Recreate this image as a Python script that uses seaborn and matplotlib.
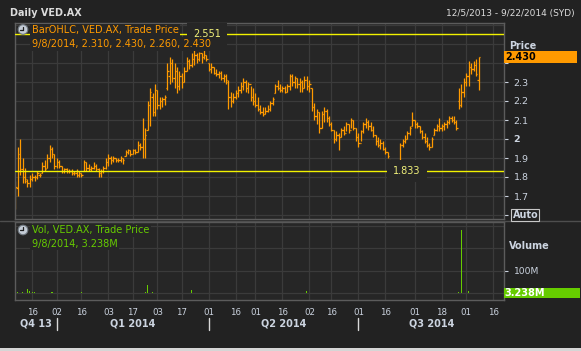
import numpy as np
import pandas as pd
import matplotlib
matplotlib.use("Agg")
import matplotlib.pyplot as plt
import seaborn as sns
from matplotlib import transforms
from matplotlib.lines import Line2D
from matplotlib.patches import Rectangle, Circle

# ---------------- data ----------------
HOLIDAYS = ["2013-12-25", "2013-12-26", "2014-01-01", "2014-01-27",
            "2014-04-18", "2014-04-21", "2014-04-25", "2014-06-09"]
AXIS_START = "2013-12-05"
AXIS_END = "2014-09-22"

highs = [1.78,1.96,2.00,1.90,1.85,1.79,1.81,1.82,1.81,1.83,
         1.82,1.88,1.89,1.92,1.97,1.96,1.92,1.90,1.89,1.86,
         1.85,1.85,1.84,1.84,1.83,1.84,1.83,1.82,1.89,1.88,
         1.87,1.86,1.88,1.87,1.85,1.84,1.86,1.90,1.92,1.91,
         1.91,1.90,1.90,1.91,1.90,1.94,1.95,1.94,1.95,1.95,
         1.99,1.98,2.11,2.06,2.20,2.27,2.24,2.29,2.26,2.22,
         2.22,2.23,2.40,2.43,2.42,2.40,2.38,2.36,2.35,2.38,
         2.43,2.42,2.45,2.47,2.45,2.46,2.45,2.47,2.44,2.40,
         2.40,2.38,2.37,2.36,2.36,2.34,2.34,2.31,2.25,2.24,
         2.26,2.28,2.30,2.32,2.31,2.30,2.28,2.27,2.24,2.22,
         2.18,2.17,2.17,2.18,2.20,2.22,2.29,2.31,2.29,2.28,
         2.28,2.29,2.34,2.34,2.33,2.32,2.32,2.31,2.33,2.33,
         2.31,2.27,2.19,2.16,2.14,2.15,2.17,2.16,2.12,2.09,
         2.05,2.04,2.03,2.06,2.07,2.09,2.08,2.11,2.10,2.06,
         2.03,2.05,2.09,2.11,2.10,2.09,2.07,2.02,2.01,2.00,
         1.99,1.96,1.93,1.89,1.88,1.88,1.87,1.98,2.00,2.02,
         2.04,2.07,2.14,2.10,2.09,2.07,2.05,2.03,2.01,1.98,
         2.01,2.06,2.08,2.11,2.08,2.09,2.10,2.12,2.12,2.12,
         2.10,2.27,2.29,2.32,2.35,2.41,2.40,2.41,2.42,2.43]
lows = [1.63,1.70,1.81,1.77,1.77,1.75,1.75,1.78,1.78,1.79,
        1.80,1.82,1.83,1.85,1.88,1.90,1.84,1.85,1.85,1.82,
        1.82,1.82,1.82,1.81,1.81,1.80,1.80,1.80,1.83,1.83,
        1.83,1.83,1.84,1.83,1.80,1.80,1.82,1.84,1.86,1.87,
        1.88,1.88,1.88,1.88,1.87,1.91,1.92,1.91,1.92,1.92,
        1.93,1.94,1.90,1.90,2.05,2.07,2.12,2.12,2.16,2.16,
        2.17,2.18,2.26,2.29,2.30,2.27,2.24,2.26,2.27,2.30,
        2.36,2.37,2.38,2.39,2.40,2.41,2.40,2.42,2.41,2.36,
        2.35,2.34,2.33,2.32,2.31,2.30,2.29,2.16,2.17,2.19,
        2.21,2.22,2.24,2.26,2.25,2.24,2.20,2.18,2.17,2.15,
        2.13,2.12,2.13,2.14,2.15,2.18,2.24,2.26,2.25,2.25,
        2.24,2.25,2.26,2.28,2.27,2.27,2.25,2.25,2.27,2.26,
        2.25,2.15,2.10,2.08,2.03,2.06,2.09,2.09,2.07,2.04,
        1.98,1.99,1.94,2.01,2.02,2.04,2.03,2.06,2.05,1.99,
        1.96,1.99,2.03,2.06,2.05,2.04,2.01,1.97,1.96,1.95,
        1.94,1.92,1.90,1.87,1.86,1.86,1.833,1.86,1.96,1.98,
        2.00,2.02,2.07,2.06,2.06,2.03,2.00,1.98,1.96,1.94,
        1.96,2.02,2.04,2.04,2.04,2.05,2.06,2.08,2.09,2.08,
        2.05,2.16,2.17,2.22,2.28,2.28,2.34,2.36,2.33,2.26]
opens = [1.66,1.74,1.92,1.84,1.80,1.78,1.77,1.79,1.80,1.80,
         1.81,1.82,1.86,1.85,1.90,1.95,1.92,1.86,1.88,1.86,
         1.83,1.84,1.83,1.83,1.82,1.82,1.81,1.82,1.83,1.88,
         1.85,1.84,1.85,1.86,1.84,1.82,1.83,1.85,1.88,1.90,
         1.89,1.90,1.89,1.89,1.90,1.91,1.93,1.94,1.92,1.94,
         1.93,1.97,1.96,2.00,2.05,2.18,2.22,2.14,2.26,2.18,
         2.20,2.21,2.27,2.33,2.40,2.32,2.36,2.28,2.33,2.30,
         2.36,2.41,2.39,2.42,2.44,2.42,2.45,2.43,2.44,2.40,
         2.37,2.38,2.35,2.34,2.35,2.32,2.33,2.30,2.22,2.20,
         2.22,2.24,2.26,2.28,2.30,2.27,2.29,2.22,2.20,2.18,
         2.16,2.14,2.13,2.15,2.16,2.19,2.24,2.28,2.27,2.26,
         2.27,2.25,2.28,2.33,2.30,2.32,2.29,2.30,2.27,2.31,
         2.28,2.27,2.17,2.12,2.14,2.06,2.13,2.15,2.11,2.08,
         2.05,2.00,2.02,2.01,2.05,2.03,2.08,2.05,2.10,2.06,
         2.01,1.98,2.04,2.08,2.09,2.07,2.05,2.02,1.99,1.97,
         1.98,1.95,1.93,1.89,1.88,1.87,1.86,1.86,1.97,1.99,
         2.00,2.03,2.07,2.10,2.08,2.07,2.04,2.01,1.99,1.97,
         1.96,2.02,2.05,2.07,2.06,2.07,2.08,2.09,2.11,2.10,
         2.09,2.20,2.18,2.25,2.30,2.33,2.38,2.37,2.39,2.31]
closes = [1.75,1.90,1.84,1.80,1.79,1.77,1.79,1.80,1.80,1.82,
          1.81,1.86,1.84,1.90,1.95,1.92,1.86,1.88,1.86,1.83,
          1.84,1.83,1.83,1.82,1.82,1.81,1.82,1.81,1.88,1.85,
          1.84,1.85,1.86,1.84,1.82,1.83,1.85,1.88,1.90,1.89,
          1.90,1.89,1.89,1.90,1.89,1.93,1.94,1.92,1.94,1.93,
          1.97,1.96,2.00,2.02,2.18,2.25,2.14,2.26,2.18,2.20,
          2.21,2.22,2.36,2.40,2.32,2.36,2.28,2.33,2.30,2.36,
          2.41,2.39,2.42,2.44,2.42,2.45,2.43,2.44,2.42,2.37,
          2.38,2.35,2.34,2.35,2.32,2.33,2.31,2.22,2.20,2.22,
          2.24,2.26,2.28,2.30,2.27,2.29,2.22,2.20,2.18,2.16,
          2.14,2.13,2.15,2.16,2.19,2.21,2.28,2.27,2.26,2.27,
          2.25,2.28,2.33,2.30,2.32,2.29,2.30,2.27,2.31,2.28,
          2.29,2.17,2.12,2.14,2.06,2.13,2.15,2.11,2.08,2.05,
          2.00,2.02,2.01,2.05,2.03,2.08,2.05,2.10,2.06,2.01,
          1.98,2.04,2.08,2.09,2.07,2.05,2.02,1.99,1.97,1.98,
          1.95,1.93,1.91,1.88,1.87,1.86,1.85,1.97,1.99,2.00,
          2.03,2.06,2.10,2.08,2.07,2.04,2.01,1.99,1.97,1.96,
          2.00,2.05,2.07,2.06,2.07,2.08,2.09,2.11,2.10,2.09,
          2.06,2.18,2.25,2.30,2.33,2.38,2.37,2.39,2.34,2.43]
volume_m = [63,4,3,4,3,18,10,7,4,1.2,
            1.0,1.3,0.9,1.1,1.4,4,1.2,0.8,1.0,1.1,
            0.9,1.2,1.0,0.8,1.1,1.3,1.0,7,1.5,1.1,
            0.9,1.0,1.2,1.4,1.1,0.9,1.0,1.2,1.3,1.1,
            1.0,1.2,0.9,1.1,1.3,1.0,1.2,1.4,1.1,1.3,
            1.6,1.8,3.5,4,37,3,7,1.8,1.5,1.2,
            1.4,1.3,1.8,2,3,3,3,3,1.6,1.4,
            1.5,1.9,15,3,3,1.6,1.4,3,1.2,1.3,
            3,1.2,1.1,1.4,3,3,1.2,3,1.3,1.1,
            3,1.2,1.0,1.1,0.9,1.2,1.0,1.1,1.3,1.0,
            1.2,0.9,1.1,1.0,1.2,1.4,3,3,3,1.2,
            1.0,1.1,1.3,1.2,1.0,1.1,0.9,1.0,1.4,10,
            1.6,1.9,1.4,1.2,3,1.3,3,1.1,1.0,1.2,
            1.3,3,3,3,3,1.2,1.0,1.1,0.9,1.2,
            1.0,1.1,1.3,1.2,3,1.1,1.0,1.2,1.1,1.3,
            1.0,1.2,1.4,1.3,1.5,3,3,1.6,1.2,1.1,
            3,1.2,1.4,3,1.1,1.0,1.2,1.1,1.3,1.0,
            1.1,1.2,1.0,1.3,1.1,1.2,1.0,1.1,1.3,1.4,
            1.8,6,280,3.5,3.5,10,3,3,3,3.238]

TICK_DATES = ["2013-12-16", "2014-01-02", "2014-01-16", "2014-02-03", "2014-02-17",
              "2014-03-03", "2014-03-17", "2014-04-01", "2014-04-16", "2014-05-01",
              "2014-05-16", "2014-06-02", "2014-06-16", "2014-07-01", "2014-07-16",
              "2014-08-01", "2014-08-18", "2014-09-01", "2014-09-16"]
QUARTER_STARTS = ["2014-01-02", "2014-04-01", "2014-07-01"]
QUARTER_LABELS = ["Q4 13", "Q1 2014", "Q2 2014", "Q3 2014"]
PRICE_TICKS = [1.6, 1.7, 1.8, 1.9, 2.0, 2.1, 2.2, 2.3, 2.4, 2.5, 2.6]
PRICE_TICK_LABELS = ["", "1.7", "1.8", "1.9", "2", "2.1", "2.2", "2.3", "", "", ""]
VOL_TICKS = [0, 100, 200, 300]
VOL_TICK_LABELS = ["", "100M", "", ""]
HI_LINE, LO_LINE = 2.551, 1.833
LAST_PRICE_TEXT = "2.430"
LAST_VOL_TEXT = "3.238M"
TITLE = "Daily VED.AX"
RANGE_TEXT = "12/5/2013 - 9/22/2014 (SYD)"
LEG1 = ["BarOHLC, VED.AX, Trade Price", "9/8/2014, 2.310, 2.430, 2.260, 2.430"]
LEG2 = ["Vol, VED.AX, Trade Price", "9/8/2014, 3.238M"]

# ---------------- style ----------------
OUTER = "#222222"
PANEL = "#262626"
GRID = "#3b3b3b"
SPINE = "#5c5c5c"
TXT = "#ccd4e0"
ORANGE = "#ff9a00"
GREEN = "#66cc00"
YELLOW = "#f2f200"

sns.set_theme(style="dark", rc={
    "figure.facecolor": OUTER, "axes.facecolor": PANEL,
    "axes.edgecolor": SPINE, "grid.color": GRID,
    "xtick.color": TXT, "ytick.color": TXT,
    "text.color": TXT, "axes.labelcolor": TXT,
})
plt.rcParams["font.family"] = ["DejaVu Sans"]

W, H = 581, 351
fig = plt.figure(figsize=(W / 100, H / 100), dpi=100)


def fx(px):
    return px / W


def fy(py):
    return 1 - py / H


days = pd.bdate_range(AXIS_START, AXIS_END, freq="C", holidays=HOLIDAYS)
n = len(closes)
df = pd.DataFrame({"i": np.arange(n), "date": days[:n], "open": opens, "high": highs,
                   "low": lows, "close": closes, "vol": volume_m})
tick_pos = days.get_indexer(pd.to_datetime(TICK_DATES))
tick_lab = [d[-2:] for d in TICK_DATES]
q_pos = days.get_indexer(pd.to_datetime(QUARTER_STARTS))
XL = (-0.3, len(days) - 1 + 0.4)

L, R = 14.5, 504
axp = fig.add_axes([fx(L), fy(219), fx(R - L), (219 - 22.5) / H])
axv = fig.add_axes([fx(L), fy(300), fx(R - L), (300 - 221.5) / H])

# ---- price panel ----
axp.vlines(df["i"], df["low"], df["high"], color=ORANGE, lw=0.9)
axp.hlines(df["open"], df["i"] - 0.55, df["i"], color=ORANGE, lw=0.9)
axp.hlines(df["close"], df["i"], df["i"] + 0.55, color=ORANGE, lw=0.9)
axp.axhline(HI_LINE, color=YELLOW, lw=1, zorder=3)
axp.axhline(LO_LINE, color=YELLOW, lw=1, zorder=3)
axp.set_xlim(*XL)
axp.set_ylim(2.0 - (219 - 139) / 190, 2.0 + (139 - 22.5) / 190)
axp.set_xticks(tick_pos)
axp.set_xticklabels([])
axp.tick_params(axis="x", length=0)
axp.yaxis.tick_right()
axp.set_yticks(PRICE_TICKS)
axp.set_yticklabels(PRICE_TICK_LABELS)
axp.tick_params(axis="y", length=3, width=0.8, pad=4, labelsize=6.8, colors=TXT)
for t, v in zip(axp.yaxis.get_major_ticks(), PRICE_TICKS):
    if v > 2.45:
        t.tick2line.set_visible(False)
for lab in axp.get_yticklabels():
    if lab.get_text() == "2":
        lab.set_fontweight("bold")
axp.grid(True, color=GRID, lw=0.9)
for s in axp.spines.values():
    s.set_color(SPINE)
    s.set_linewidth(1)

bt = transforms.blended_transform_factory(axp.transAxes, axp.transData)
axp.text((207 - L) / (R - L), HI_LINE, "2.551", transform=bt, color="#f0f07a",
         fontsize=7, ha="center", va="center", zorder=5,
         bbox=dict(facecolor=PANEL, edgecolor="none", pad=4.5))
axp.text((407 - L) / (R - L), LO_LINE, "1.833", transform=bt, color="#f0f07a",
         fontsize=7, ha="center", va="center", zorder=5,
         bbox=dict(facecolor=PANEL, edgecolor="none", pad=4.5))

# ---- volume panel ----
sns.barplot(data=df, x="i", y="vol", native_scale=True, color=GREEN, saturation=1,
            width=0.45, linewidth=0, errorbar=None, ax=axv)
axv.set_xlabel("")
axv.set_ylabel("")
axv.set_xlim(*XL)
axv.set_ylim(-(300 - 293.3) / 22.5 * 100, (293.3 - 221.5) / 22.5 * 100)
axv.set_xticks(tick_pos)
axv.set_xticklabels(tick_lab)
axv.tick_params(axis="x", length=3, width=0.8, pad=3, labelsize=6.2, colors=TXT)
axv.yaxis.tick_right()
axv.set_yticks(VOL_TICKS)
axv.set_yticklabels(VOL_TICK_LABELS)
axv.tick_params(axis="y", length=3, width=0.8, pad=4, labelsize=6.6, colors=TXT)
for t, v in zip(axv.yaxis.get_major_ticks(), VOL_TICKS):
    if v != 100:
        t.tick2line.set_visible(False)
axv.grid(True, color=GRID, lw=0.9)
for s in axv.spines.values():
    s.set_color(SPINE)
    s.set_linewidth(1)

# quarter labels and separators
bq = transforms.blended_transform_factory(axv.transData, fig.transFigure)
bounds = [XL[0]] + list(q_pos) + [XL[1]]
for k, lab in enumerate(QUARTER_LABELS):
    c = (bounds[k] + bounds[k + 1]) / 2
    axv.text(c, fy(324), lab, transform=bq, ha="center", va="center",
             fontsize=7, fontweight="bold", color=TXT, clip_on=False)
for q in q_pos:
    axv.add_line(Line2D([q, q], [fy(318), fy(329.5)], transform=bq, color="#d8d8d8",
                        lw=1, clip_on=False))

# ---- figure texts ----
fig.text(fx(10), fy(13.5), TITLE, fontsize=6.9, fontweight="bold", color="#dcdcdc",
         va="center")
fig.text(fx(575), fy(13.5), RANGE_TEXT, fontsize=6.5, color="#dcdcdc", va="center",
         ha="right")

legbox = dict(facecolor=PANEL, edgecolor="none", pad=1.2)
fig.text(fx(31.5), fy(30.5), LEG1[0], fontsize=7, color=ORANGE, va="center", bbox=legbox,
         zorder=6)
fig.text(fx(32), fy(44), LEG1[1], fontsize=7, color=ORANGE, va="center", bbox=legbox,
         zorder=6)
fig.text(fx(31.5), fy(230.5), LEG2[0], fontsize=7, color=GREEN, va="center", bbox=legbox,
         zorder=6)
fig.text(fx(32), fy(243.5), LEG2[1], fontsize=7, color=GREEN, va="center", bbox=legbox,
         zorder=6)

# clock icons
for cy in (29.5, 230):
    c = Circle((23 / 100, (H - cy) / 100), 0.048, transform=fig.dpi_scale_trans,
               facecolor="#c4ccd6", edgecolor="#707880", lw=0.8, zorder=7)
    fig.add_artist(c)
    fig.add_artist(Line2D([23 / 100, 23 / 100], [(H - cy) / 100, (H - cy + 3) / 100],
                          transform=fig.dpi_scale_trans, color="#202020", lw=0.9, zorder=8))
    fig.add_artist(Line2D([23 / 100, 20 / 100], [(H - cy) / 100, (H - cy) / 100],
                          transform=fig.dpi_scale_trans, color="#202020", lw=0.9, zorder=8))

# right side labels
fig.text(fx(509), fy(45.7), "Price", fontsize=6.9, fontweight="bold", color=TXT,
         va="center")
fig.add_artist(Rectangle((fx(504), fy(62.8)), fx(577 - 504), (62.8 - 50.5) / H,
                         transform=fig.transFigure, facecolor=ORANGE, edgecolor="none",
                         zorder=6))
fig.text(fx(505), fy(56.8), LAST_PRICE_TEXT, fontsize=6.9, fontweight="bold",
         color="#000000", va="center", zorder=7)
fig.text(fx(512.5), fy(215), "Auto", fontsize=6.9, fontweight="bold", color=TXT,
         va="center", zorder=7,
         bbox=dict(facecolor=OUTER, edgecolor="#c8c8c8", pad=1.0, lw=0.8))
fig.text(fx(509.3), fy(246), "Volume", fontsize=7, fontweight="bold", color=TXT,
         va="center")
fig.add_artist(Rectangle((fx(503.7), fy(298.3)), fx(580 - 503.7), (298.3 - 288.3) / H,
                         transform=fig.transFigure, facecolor=GREEN, edgecolor="none",
                         zorder=6))
fig.text(fx(504), fy(293.3), LAST_VOL_TEXT, fontsize=7, fontweight="bold",
         color="#ffffff", va="center", zorder=7)

# separator line between panels and bottom strip
fig.add_artist(Line2D([0, 1], [fy(221), fy(221)], transform=fig.transFigure,
                      color="#4e4e4e", lw=1))
fig.add_artist(Rectangle((0, 0), 1, 3.5 / H, transform=fig.transFigure,
                         facecolor="#d6d6d6", edgecolor="none"))

fig.savefig("out.png", dpi=100, facecolor=OUTER)
